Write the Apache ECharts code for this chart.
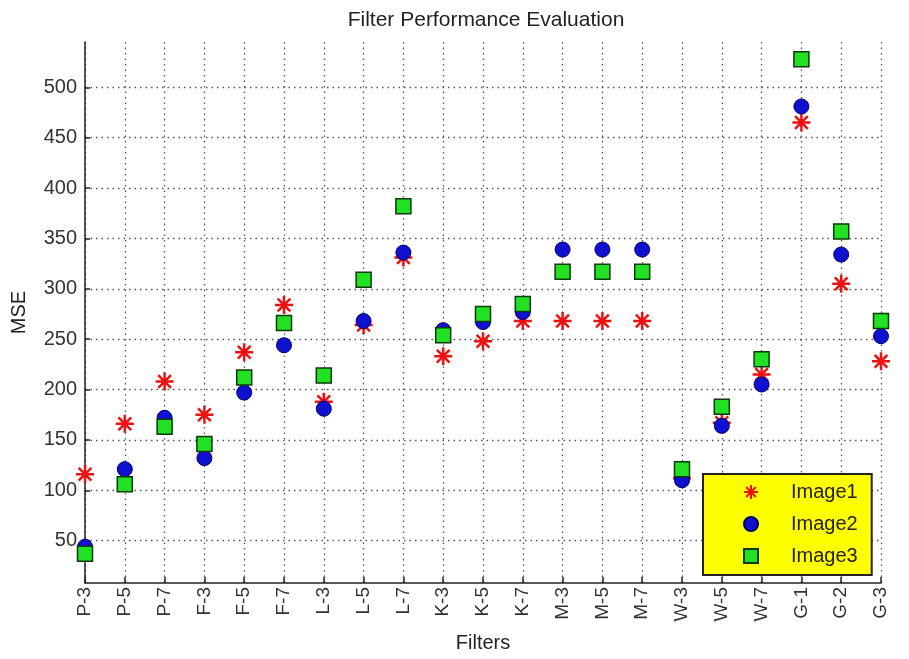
<!DOCTYPE html>
<html>
<head>
<meta charset="utf-8">
<script src="https://cdn.jsdelivr.net/npm/echarts@6/dist/echarts.min.js"></script>
<style>
html,body{margin:0;padding:0;background:#fff;}
#chart{width:909px;height:659px;}
</style>
</head>
<body>
<div id="chart"></div>
<script>
const categories = ['P-3','P-5','P-7','F-3','F-5','F-7','L-3','L-5','L-7','K-3','K-5','K-7','M-3','M-5','M-7','W-3','W-5','W-7','G-1','G-2','G-3'];
const image1 = [116,166,208,175,237,284,188,264,331,233,248,268,268,268,268,112,167,215,465,305,228];
const image2 = [44,121,172,132,197,244,181,268,336,259,267,277,339,339,339,110,164,205,481,334,253];
const image3 = [37,106,163,146,212,266,214,309,382,254,275,285,317,317,317,121,183,230,528,357,268];
const yTicks = [50,100,150,200,250,300,350,400,450,500];

const FONT = '"Liberation Sans", Arial, sans-serif';
const asterisk = 'path://M0,-10L0,10M-10,0L10,0M-7.07,-7.07L7.07,7.07M-7.07,7.07L7.07,-7.07';
const square = 'path://M0,0L10,0L10,10L0,10Z';
const gridLine = {show:true, lineStyle:{color:'#555', width:1.3, type:[1.5,4]}};

const chart = echarts.init(document.getElementById('chart'), null, {renderer:'canvas'});
chart.setOption({
  animation:false,
  backgroundColor:'#fff',
  title:{
    text:'Filter Performance Evaluation',
    left:481, top:5, textAlign:'center',
    textStyle:{fontFamily:FONT, fontSize:21, fontWeight:'normal', color:'#222'}
  },
  legend:{
    orient:'vertical',
    left:703, top:474,
    padding:[8,14,9,40],
    itemWidth:70, itemHeight:14, itemGap:12,
    backgroundColor:'#ffff00',
    borderColor:'#222', borderWidth:2,
    textStyle:{fontFamily:FONT, fontSize:20, color:'#222'},
    data:['Image1','Image2','Image3']
  },
  grid:{left:85, right:28, top:42, bottom:76, containLabel:false},
  xAxis:{
    type:'category',
    data:categories,
    boundaryGap:false,
    name:'Filters', nameLocation:'middle', nameGap:50,
    nameTextStyle:{fontFamily:FONT, fontSize:20, color:'#222'},
    axisLine:{show:true, lineStyle:{color:'#222', width:1.5}},
    axisTick:{show:true, inside:true, length:6, lineStyle:{color:'#222', width:1.5}},
    axisLabel:{rotate:90, margin:4, interval:0, padding:[22,0,0,0], fontFamily:FONT, fontSize:19, color:'#333'},
    splitLine:gridLine
  },
  yAxis:{
    type:'value',
    min:8, max:545,
    splitNumber:10,
    name:'MSE', nameLocation:'middle', nameGap:56, nameRotate:90,
    nameTextStyle:{fontFamily:FONT, fontSize:20, color:'#222'},
    axisLine:{show:true, lineStyle:{color:'#222', width:1.5}},
    axisTick:{show:true, inside:true, length:5, customValues:yTicks, lineStyle:{color:'#222', width:1.5}},
    axisLabel:{margin:8, customValues:yTicks, fontFamily:FONT, fontSize:20, color:'#333'},
    splitLine:gridLine
  },
  series:[
    {name:'Image1', type:'scatter', data:image1, symbol:asterisk, symbolSize:18,
     itemStyle:{color:'#ee1111', borderColor:'#ee1111', borderWidth:2.5, opacity:1}},
    {name:'Image2', type:'scatter', data:image2, symbol:'circle', symbolSize:15,
     itemStyle:{color:'#1010d0', borderColor:'#000066', borderWidth:1, opacity:1}},
    {name:'Image3', type:'scatter', data:image3, symbol:square, symbolSize:15,
     itemStyle:{color:'#22e022', borderColor:'#0a3a0a', borderWidth:1.5, opacity:1}}
  ]
});
</script>
</body>
</html>
